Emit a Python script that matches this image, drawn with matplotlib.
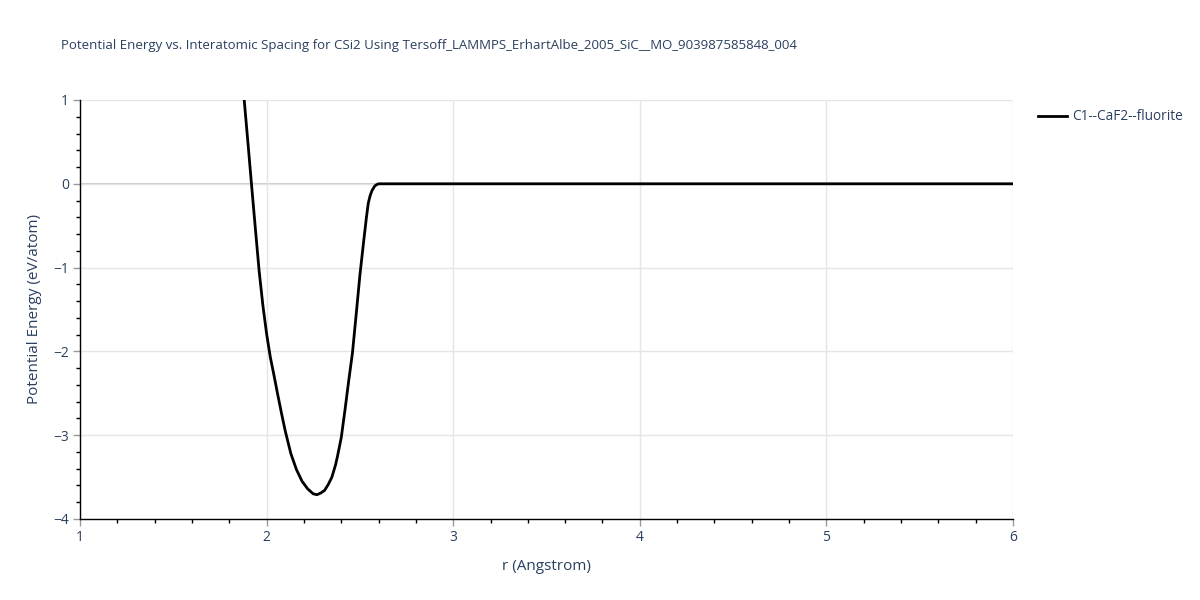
import matplotlib
matplotlib.use("Agg")
import matplotlib.pyplot as plt
from matplotlib.ticker import MultipleLocator, FuncFormatter

title = "Potential Energy vs. Interatomic Spacing for CSi2 Using Tersoff_LAMMPS_ErhartAlbe_2005_SiC__MO_903987585848_004"
series_name = "C1--CaF2--fluorite"
x_label = "r (Angstrom)"
y_label = "Potential Energy (eV/atom)"

r = [1.88, 1.90, 1.92, 1.94, 1.96, 1.98, 2.00, 2.02, 2.04, 2.06, 2.08, 2.10,
     2.13, 2.16, 2.19, 2.22, 2.25, 2.27, 2.29, 2.31, 2.33, 2.35, 2.37, 2.38,
     2.40, 2.42, 2.44, 2.46, 2.48, 2.50, 2.52, 2.535, 2.545, 2.555, 2.565,
     2.58, 2.59, 2.60, 3.0, 3.5, 4.0, 4.5, 5.0, 5.5, 6.0]
energy = [1.0, 0.49, -0.03, -0.54, -1.04, -1.45, -1.79, -2.07, -2.29, -2.52, -2.74, -2.95,
          -3.22, -3.41, -3.55, -3.64, -3.70, -3.71, -3.69, -3.66, -3.59, -3.50, -3.35, -3.25,
          -3.03, -2.70, -2.35, -2.02, -1.56, -1.09, -0.69, -0.40, -0.23, -0.14, -0.08,
          -0.025, -0.01, 0.0, 0.0, 0.0, 0.0, 0.0, 0.0, 0.0, 0.0]

text_color = "#2a3f5f"
plt.rcParams['font.family'] = ['Open Sans', 'DejaVu Sans']

fig = plt.figure(figsize=(12, 6), dpi=100)
ax = fig.add_axes([80/1200, 1-519/600, (1013-80)/1200, (519-100)/600])

ax.plot(r, energy, color="black", lw=2, label=series_name, zorder=3)
ax.set_xlim(1, 6)
ax.set_ylim(-4, 1)

ax.xaxis.set_major_locator(MultipleLocator(1))
ax.xaxis.set_minor_locator(MultipleLocator(0.2))
ax.yaxis.set_major_locator(MultipleLocator(1))
ax.yaxis.set_minor_locator(MultipleLocator(0.2))
fmt = FuncFormatter(lambda v, p: f"{int(round(v))}".replace("-", "\u2212"))
ax.xaxis.set_major_formatter(fmt)
ax.yaxis.set_major_formatter(fmt)

ax.grid(True, which="major", color="#e5e5e5", lw=1, zorder=0)
ax.axhline(0, color="#cccccc", lw=1.5, zorder=1)
for s in ["top", "right"]:
    ax.spines[s].set_visible(False)
for s in ["left", "bottom"]:
    ax.spines[s].set_color("black")
    ax.spines[s].set_linewidth(1)

ax.tick_params(which="major", direction="out", length=5, width=1, color="#999999",
               labelsize=10, labelcolor=text_color, pad=3)
ax.tick_params(which="minor", direction="out", length=3, width=1, color="black")

ax.set_xlabel(x_label, fontsize=11, color=text_color, labelpad=10)
ax.set_ylabel(y_label, fontsize=11, color=text_color, labelpad=8)

fig.text(61/1200, 1-46/600, title, fontsize=9.5, color=text_color, va="center", ha="left")

leg = ax.legend(loc="upper left", bbox_to_anchor=((1033-80)/933, 1.0 - 4/419),
                frameon=False, fontsize=9.8, handlelength=2.1, handletextpad=0.35,
                labelcolor=text_color, borderaxespad=0)

fig.savefig("out.png", dpi=100)
